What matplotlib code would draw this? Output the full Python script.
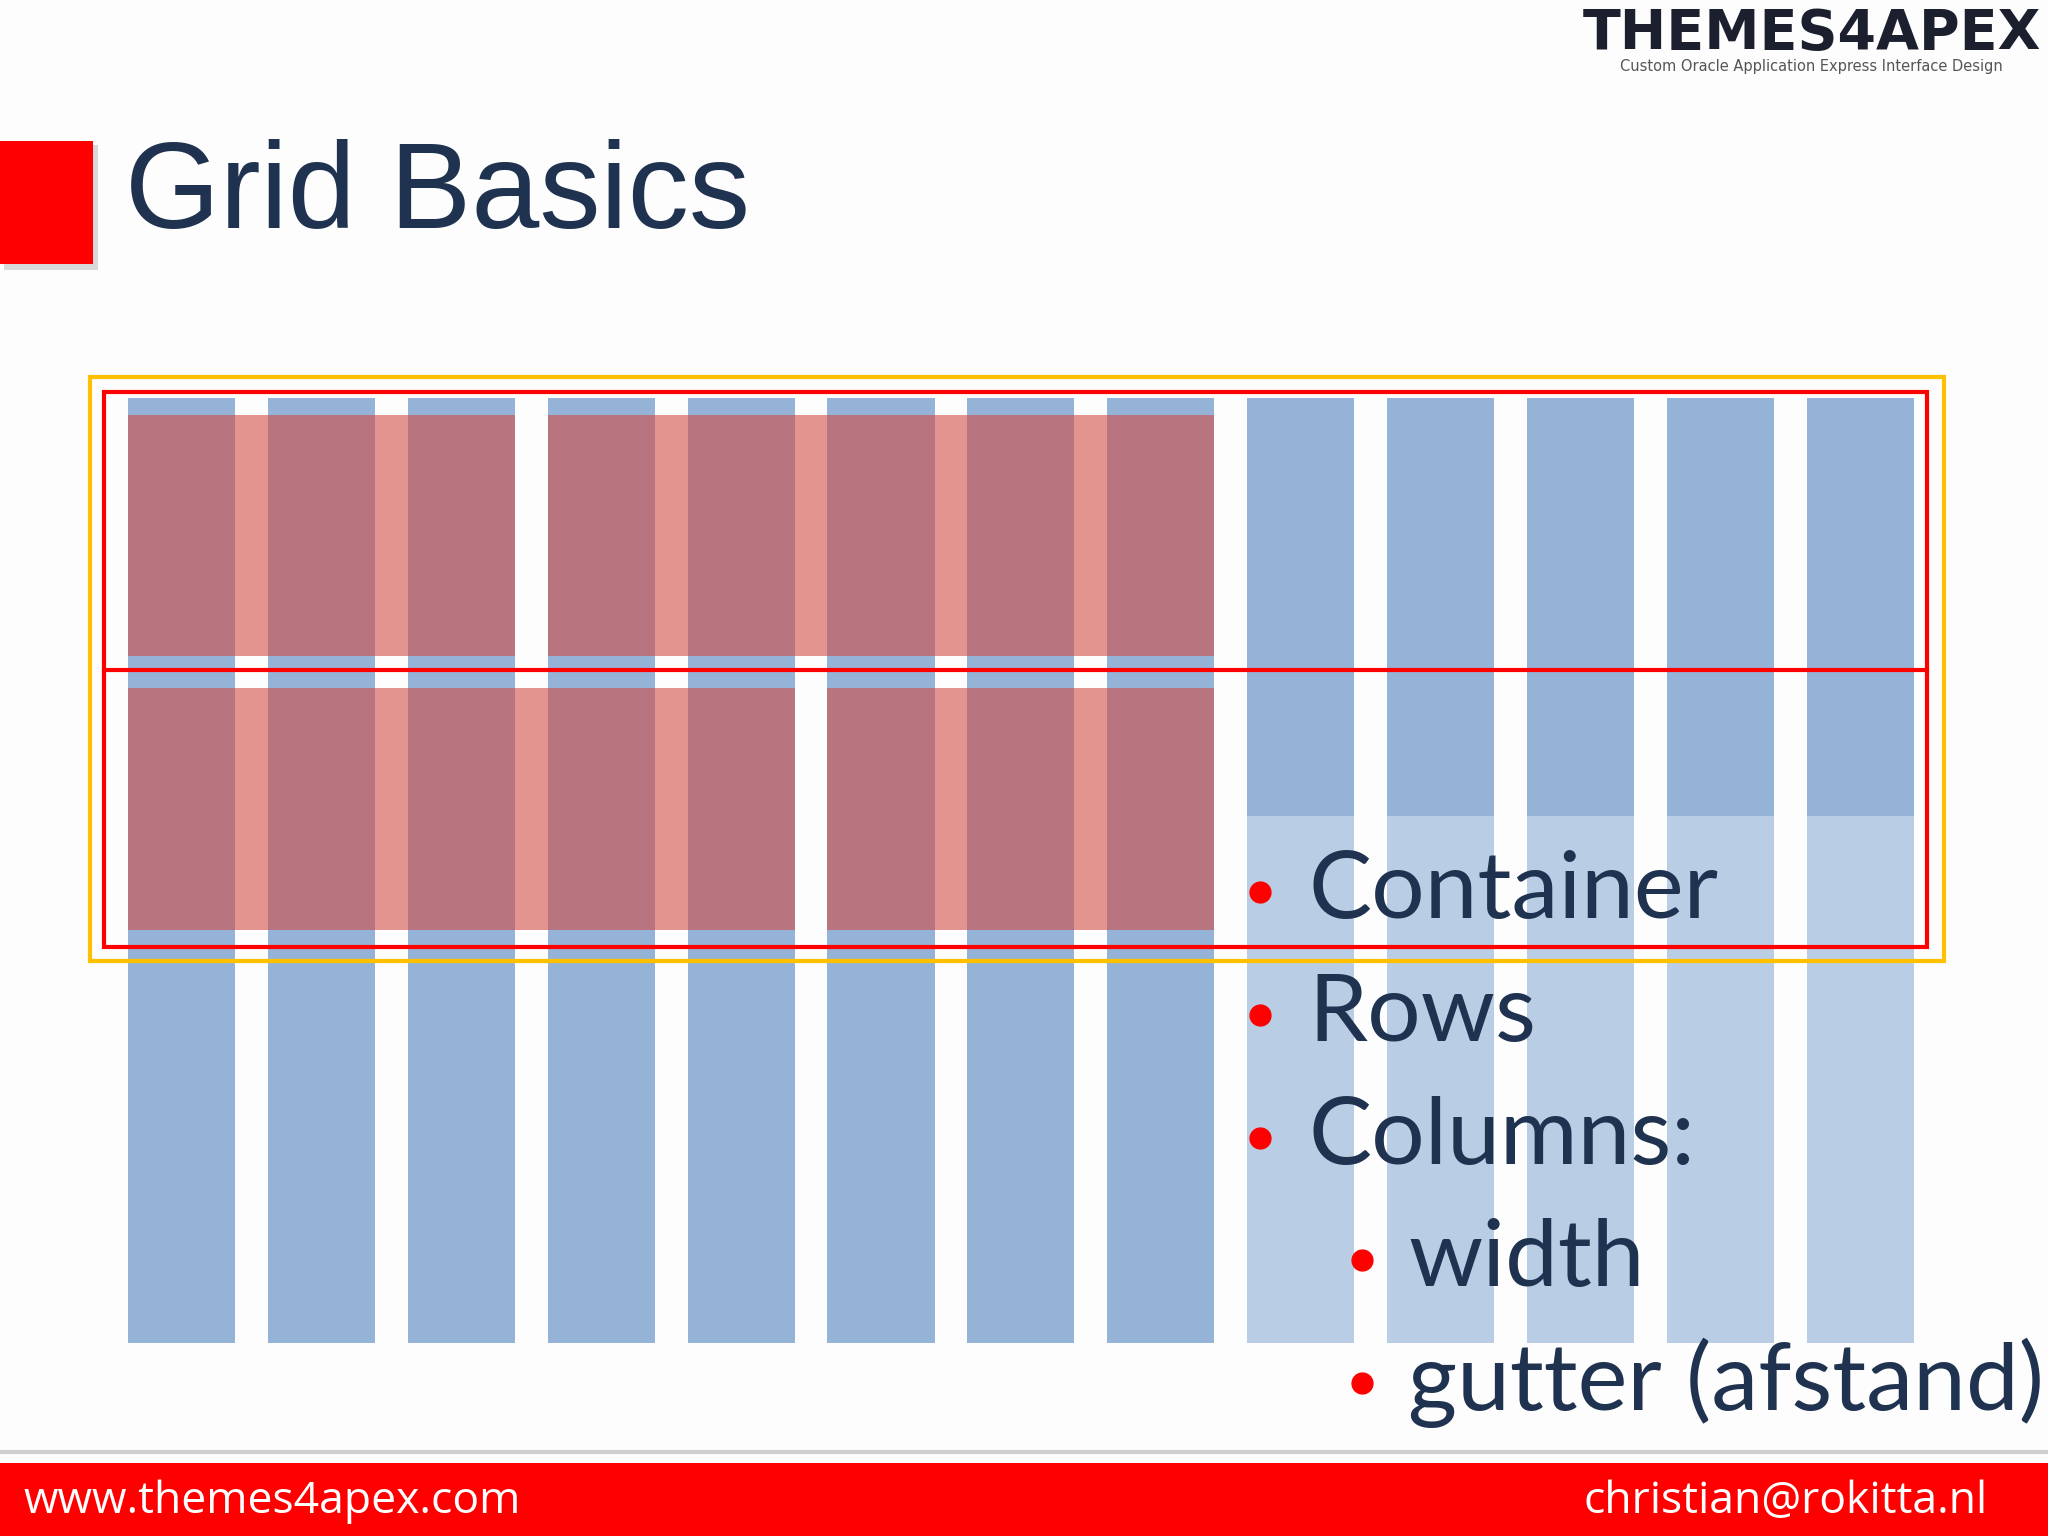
import matplotlib as mpl

mpl.use("Agg")
import matplotlib.pyplot as plt
from matplotlib.patches import Rectangle

# grid definition (slide units, 1568 x 1176 canvas)
n_columns = 13
col_x0, col_w, col_pitch = 98, 82, 107.1
col_top, col_bottom = 305, 1028
# red blocks: (top, bottom, first column, number of columns)
row_blocks = [
    (318, 502, 0, 3),
    (318, 502, 3, 5),
    (527, 712, 0, 5),
    (527, 712, 5, 3),
]
bullets = ["Container", "Rows", "Columns:"]
sub_bullets = ["width", "gutter (afstand)"]

BLUE = "#95b3d7"
NAVY = "#1f3350"
RED = "#ff0000"

fig = plt.figure(figsize=(20.48, 15.36), dpi=100)
ax = fig.add_axes([0, 0, 1, 1])
ax.set_xlim(0, 1568)
ax.set_ylim(1176, 0)
ax.axis("off")
fig.patch.set_facecolor("#fdfdfd")

# columns
for i in range(n_columns):
    x = col_x0 + i * col_pitch
    ax.add_patch(Rectangle((x, col_top), col_w, col_bottom - col_top, color=BLUE, lw=0))

# red row blocks
for top, bottom, c0, n in row_blocks:
    x = col_x0 + c0 * col_pitch
    w = (n - 1) * col_pitch + col_w
    ax.add_patch(Rectangle((x, top), w, bottom - top, color=(210 / 255, 72 / 255, 63 / 255),
                           alpha=0.575, lw=0))

# translucent text box
ax.add_patch(Rectangle((932, 625), 546, 420, color="white", alpha=0.35, lw=0))

# container and row lines
ax.add_patch(Rectangle((69, 289), 1419, 447, fill=False, ec="#ffc000", lw=3))
ax.add_patch(Rectangle((80, 300), 1395, 425, fill=False, ec=RED, lw=3))
ax.plot([80, 1475], [513, 513], color=RED, lw=3)

# title
ax.add_patch(Rectangle((3, 111), 72, 96, color="#d9d9d9", lw=0))
ax.add_patch(Rectangle((0, 108), 71, 94, color=RED, lw=0))
ax.text(96, 150, "Grid Basics", fontsize=88, color=NAVY, va="center", ha="left",
        family="Liberation Sans")

# logo
ax.text(1387, 26, "THEMES4APEX", fontsize=40, fontweight="bold", color="#1c1f2e",
        ha="center", va="center", family="DejaVu Sans")
ax.text(1387, 51, "Custom Oracle Application Express Interface Design", fontsize=10.5,
        color="#555555", ha="center", va="center")

# bullets
for i, label in enumerate(bullets):
    y = 683 + i * 94
    ax.plot(965, y, "o", color=RED, ms=15)
    ax.text(1002, y, label, fontsize=68, color=NAVY, va="center", ha="left", family="Lato")
for i, label in enumerate(sub_bullets):
    y = 965 + i * 94
    ax.plot(1043, y, "o", color=RED, ms=15)
    ax.text(1078, y, label, fontsize=68, color=NAVY, va="center", ha="left", family="Lato")

# footer
ax.plot([0, 1568], [1112, 1112], color="#cfcfcf", lw=3)
ax.add_patch(Rectangle((0, 1120), 1568, 56, color=RED, lw=0))
ax.text(18, 1150, "www.themes4apex.com", fontsize=32, color="white", va="center", ha="left",
        family="Open Sans")
ax.text(1522, 1150, "christian@rokitta.nl", fontsize=32, color="white", va="center",
        ha="right", family="Open Sans")

fig.savefig("out.png", dpi=100, facecolor=fig.get_facecolor())
